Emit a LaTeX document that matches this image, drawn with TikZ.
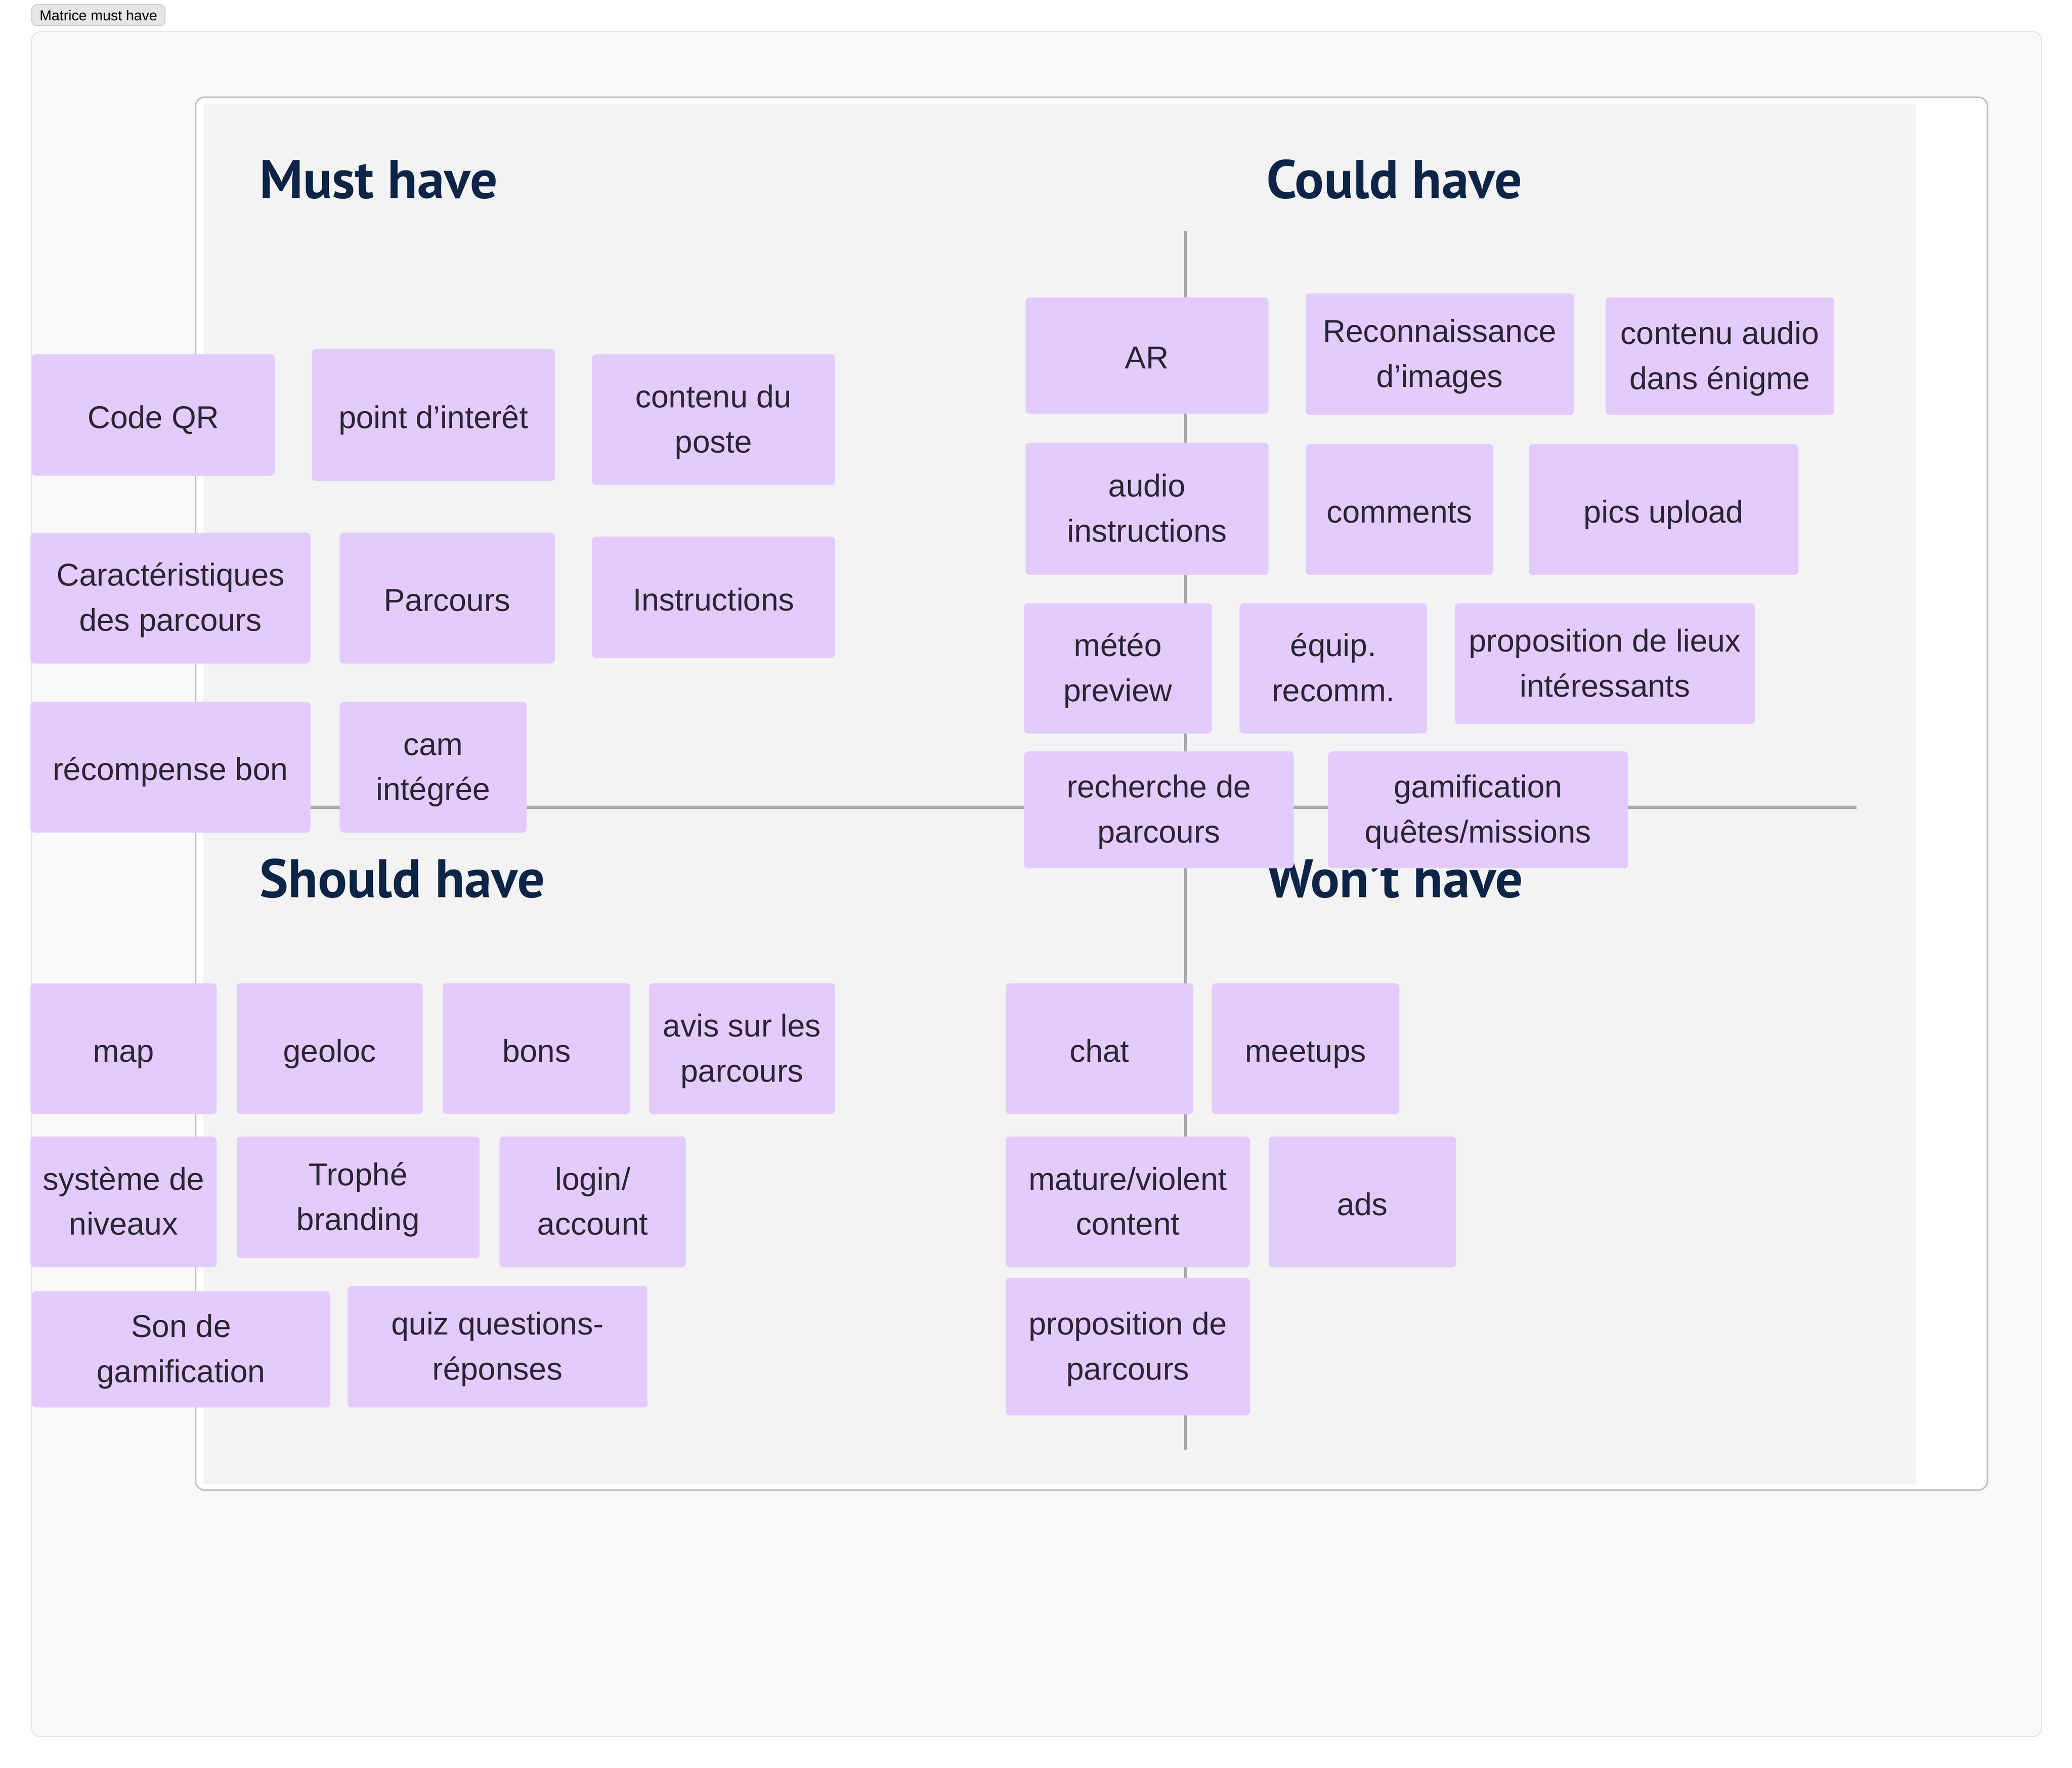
\documentclass[tikz,border=0pt]{standalone}
\usepackage{fontspec}
\setmainfont{Liberation Sans}
\newfontfamily\headfont{PT Sans}
\usepackage{tikz}

\definecolor{outerfill}{HTML}{F9F9F9}
\definecolor{outerline}{HTML}{E2E2E2}
\definecolor{innerline}{HTML}{BDBDBD}
\definecolor{gridfill}{HTML}{F3F3F3}
\definecolor{axisgray}{HTML}{AAAAAA}
\definecolor{stickyfill}{HTML}{E3CCFD}
\definecolor{stickytext}{HTML}{2B2434}
\definecolor{headblue}{HTML}{0C2446}
\definecolor{tagfill}{HTML}{E6E6E6}
\definecolor{tagline}{HTML}{C4C4C4}

% struts that push the text of a sticky down a little
\newcommand{\topstrut}{\rule[-0.3\baselineskip]{0pt}{\dimexpr\baselineskip+3.6pt\relax}}
\newcommand{\twostrut}{\rule[-0.3\baselineskip]{0pt}{\dimexpr\baselineskip+1.3pt\relax}}
\newcommand{\twolines}[2]{\twostrut#1\\#2\strut}

\begin{document}
\begin{tikzpicture}[x=0.02cm, y=-0.02cm,
    sticky/.style={fill=stickyfill, rounded corners=0.06cm, text=stickytext,
        align=center, inner sep=0pt, font=\fontsize{13.6}{19.4}\selectfont},
    wh/.style 2 args={minimum width=#1cm, minimum height=#2cm},
    heading/.style={anchor=base west, inner sep=0pt, text=headblue,
        font=\headfont\bfseries\fontsize{23.4}{27}\selectfont},
    tag/.style={fill=tagfill, draw=tagline, line width=0.3pt, rounded corners=0.08cm,
        inner sep=0pt, minimum width=2.02cm, minimum height=0.32cm,
        font=\fontsize{6.2}{7}\selectfont}]

    % Page size
    \useasboundingbox (0,0) rectangle (1568,1337.8);

    % Frames
    \node[tag] (title) at (74.5,11.5) {Matrice must have};
    \draw[fill=outerfill, draw=outerline, line width=0.4pt, rounded corners=0.13cm]
        (24,24) rectangle (1545,1314);
    \draw[fill=white, draw=innerline, line width=0.6pt, rounded corners=0.14cm]
        (148,73.5) rectangle (1504,1127.5);
    \fill[gridfill] (154,78.5) rectangle (1450,1123);

    % Draw the axes
    \draw[axisgray, line width=1.4pt] (160,611) -- (1405,611);
    \draw[axisgray, line width=1.2pt] (897,175) -- (897,1097);

    % Quadrant titles
    \node[heading] (must) at (196,150) {Must have};
    \node[heading] (could) at (958,150) {Could have};
    \node[heading] (should) at (196,679) {Should have};
    \node[heading] (wont) at (958,679) {Won’t have};

    % Must have
    \node[sticky, wh={3.68}{1.84}] (codeqr) at (116,314) {\topstrut Code QR\strut};
    \node[sticky, wh={3.68}{2.00}] (pointinteret) at (328,314) {\topstrut point d’interêt\strut};
    \node[sticky, wh={3.68}{1.98}] (contenuposte) at (540,317.5) {\twolines{contenu du}{poste}};
    \node[sticky, wh={4.24}{1.98}] (caracteristiques) at (129,452.5) {\twolines{Caractéristiques}{des parcours}};
    \node[sticky, wh={3.26}{1.98}] (parcours) at (338.5,452.5) {\topstrut Parcours\strut};
    \node[sticky, wh={3.68}{1.84}] (instructions) at (540,452) {\topstrut Instructions\strut};
    \node[sticky, wh={4.24}{1.98}] (recompense) at (129,580.5) {\topstrut récompense bon\strut};
    \node[sticky, wh={2.83}{1.98}] (cam) at (327.75,580.5) {\twolines{cam}{intégrée}};

    % Could have
    \node[sticky, wh={3.68}{1.76}] (ar) at (868,269) {\topstrut AR\strut};
    \node[sticky, wh={4.06}{1.84}] (reconnaissance) at (1089.5,268) {\twolines{Reconnaissance}{d’images}};
    \node[sticky, wh={3.46}{1.78}] (contenuaudio) at (1301.5,269.5) {\twolines{contenu audio}{dans énigme}};
    \node[sticky, wh={3.68}{2.00}] (audioinstr) at (868,385) {\twolines{audio}{instructions}};
    \node[sticky, wh={2.84}{1.98}] (comments) at (1059,385.5) {\topstrut comments\strut};
    \node[sticky, wh={4.08}{1.98}] (picsupload) at (1259,385.5) {\topstrut pics upload\strut};
    \node[sticky, wh={2.84}{1.97}] (meteo) at (846,505.75) {\twolines{météo}{preview}};
    \node[sticky, wh={2.84}{1.97}] (equip) at (1009,505.75) {\twolines{équip.}{recomm.}};
    \node[sticky, wh={4.54}{1.83}] (lieux) at (1214.5,502.25) {\twolines{proposition de lieux}{intéressants}};
    \node[sticky, wh={4.08}{1.77}] (recherche) at (877,612.75) {\twolines{recherche de}{parcours}};
    \node[sticky, wh={4.54}{1.77}] (gamification) at (1118.5,612.75) {\twolines{gamification}{quêtes/missions}};

    % Should have
    \node[sticky, wh={2.82}{1.98}] (map) at (93.5,793.5) {\topstrut map\strut};
    \node[sticky, wh={2.82}{1.98}] (geoloc) at (249.5,793.5) {\topstrut geoloc\strut};
    \node[sticky, wh={2.84}{1.98}] (bons) at (406,793.5) {\topstrut bons\strut};
    \node[sticky, wh={2.82}{1.98}] (avis) at (561.5,793.5) {\twolines{avis sur les}{parcours}};
    \node[sticky, wh={2.82}{1.98}] (niveaux) at (93.5,909.5) {\twolines{système de}{niveaux}};
    \node[sticky, wh={3.68}{1.84}] (trophe) at (271,906) {\twolines{Trophé}{branding}};
    \node[sticky, wh={2.82}{1.98}] (login) at (448.5,909.5) {\twolines{login/}{account}};
    \node[sticky, wh={4.52}{1.76}] (son) at (137,1021) {\twolines{Son de}{gamification}};
    \node[sticky, wh={4.54}{1.84}] (quiz) at (376.5,1019) {\twolines{quiz questions-}{réponses}};

    % Won't have
    \node[sticky, wh={2.84}{1.98}] (chat) at (832,793.5) {\topstrut chat\strut};
    \node[sticky, wh={2.84}{1.98}] (meetups) at (988,793.5) {\topstrut meetups\strut};
    \node[sticky, wh={3.70}{1.98}] (mature) at (853.5,909.5) {\twolines{mature/violent}{content}};
    \node[sticky, wh={2.84}{1.98}] (ads) at (1031,909.5) {\topstrut ads\strut};
    \node[sticky, wh={3.70}{2.08}] (propparcours) at (853.5,1019) {\twolines{proposition de}{parcours}};
\end{tikzpicture}
\end{document}
